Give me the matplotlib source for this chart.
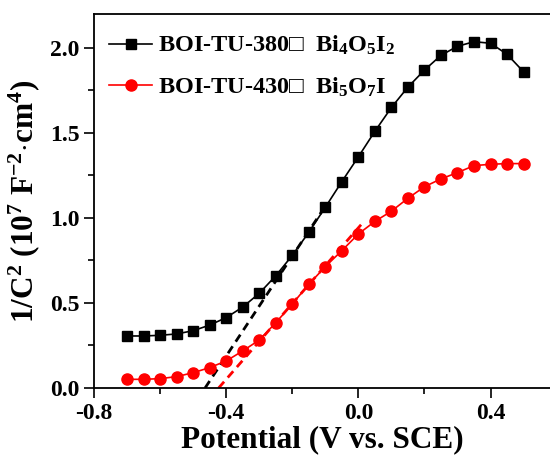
import matplotlib
matplotlib.use("Agg")
import matplotlib.pyplot as plt
from matplotlib.ticker import MultipleLocator

# potential (V vs. SCE)
potential = [-0.70, -0.65, -0.60, -0.55, -0.50, -0.45, -0.40, -0.35, -0.30,
             -0.25, -0.20, -0.15, -0.10, -0.05, 0.00, 0.05, 0.10, 0.15,
             0.20, 0.25, 0.30, 0.35, 0.40, 0.45, 0.50]

# 1/C^2 (10^7 F^-2 cm^4)
tu380 = [0.306, 0.306, 0.31, 0.318, 0.337, 0.37, 0.414, 0.476, 0.557,
         0.66, 0.78, 0.916, 1.063, 1.214, 1.36, 1.51, 1.65, 1.77,
         1.87, 1.957, 2.01, 2.037, 2.028, 1.963, 1.86]
tu430 = [0.051, 0.051, 0.055, 0.067, 0.09, 0.12, 0.159, 0.218, 0.282,
         0.384, 0.494, 0.61, 0.714, 0.808, 0.906, 0.98, 1.04, 1.116,
         1.184, 1.23, 1.267, 1.308, 1.316, 1.32, 1.32]

# Mott-Schottky linear fits (x-intercept to upper end)
fit380_x = [-0.464, -0.10]
fit380_y = [0.0, 1.07]
fit430_x = [-0.423, 0.016]
fit430_y = [0.0, 0.978]

labels = ["BOI-TU-380\u25a1  Bi$_4$O$_5$I$_2$",
          "BOI-TU-430\u25a1  Bi$_5$O$_7$I"]

plt.rcParams['font.family'] = ['Liberation Serif', 'DejaVu Serif']
plt.rcParams['font.weight'] = 'bold'
plt.rcParams['mathtext.fontset'] = 'custom'
plt.rcParams['mathtext.rm'] = 'Liberation Serif:bold'
plt.rcParams['mathtext.it'] = 'Liberation Serif:bold'
plt.rcParams['mathtext.bf'] = 'Liberation Serif:bold'
plt.rcParams['axes.unicode_minus'] = False


def main():
    fig = plt.figure(figsize=(5.5, 4.59), dpi=100)
    ax = fig.add_axes([0.171, 0.1547, 0.829, 0.8148])

    ax.plot(fit380_x, fit380_y, color='black', ls=(0, (3, 2)), lw=2.0)
    ax.plot(fit430_x, fit430_y, color='red', ls=(0, (3, 2)), lw=2.0)
    ax.plot(potential, tu380, color='black', lw=1.2, marker='s',
            markersize=7.5, label=labels[0])
    ax.plot(potential, tu430, color='red', lw=1.2, marker='o',
            markersize=8, label=labels[1])

    ax.set_xlim(-0.8, 0.58)
    ax.set_ylim(0, 2.2)
    ax.xaxis.set_major_locator(MultipleLocator(0.4))
    ax.xaxis.set_minor_locator(MultipleLocator(0.2))
    ax.yaxis.set_major_locator(MultipleLocator(0.5))
    ax.yaxis.set_minor_locator(MultipleLocator(0.25))
    ax.xaxis.set_major_formatter(plt.FormatStrFormatter('%.1f'))
    ax.yaxis.set_major_formatter(plt.FormatStrFormatter('%.1f'))
    ax.tick_params(which='major', length=7, width=1.2, labelsize=17,
                   direction='out')
    ax.tick_params(which='minor', length=4, width=1.2, direction='out')
    ax.spines['right'].set_visible(False)
    for s in ['left', 'bottom', 'top']:
        ax.spines[s].set_linewidth(1.3)

    ax.set_xlabel('Potential (V vs. SCE)', fontsize=22.5, fontweight='bold',
                  labelpad=1)
    ax.set_ylabel('1/C$^2$ (10$^7$ F$^{-2}$$\\cdot$cm$^4$)', fontsize=22.5,
                  fontweight='bold', labelpad=6)

    ax.legend(loc='upper left', frameon=False, fontsize=17.5,
              handlelength=1.8, handletextpad=0.25, labelspacing=0.75,
              borderaxespad=0.2, bbox_to_anchor=(0.0, 0.985))

    fig.savefig('out.png', dpi=100)


if __name__ == "__main__":
    main()
